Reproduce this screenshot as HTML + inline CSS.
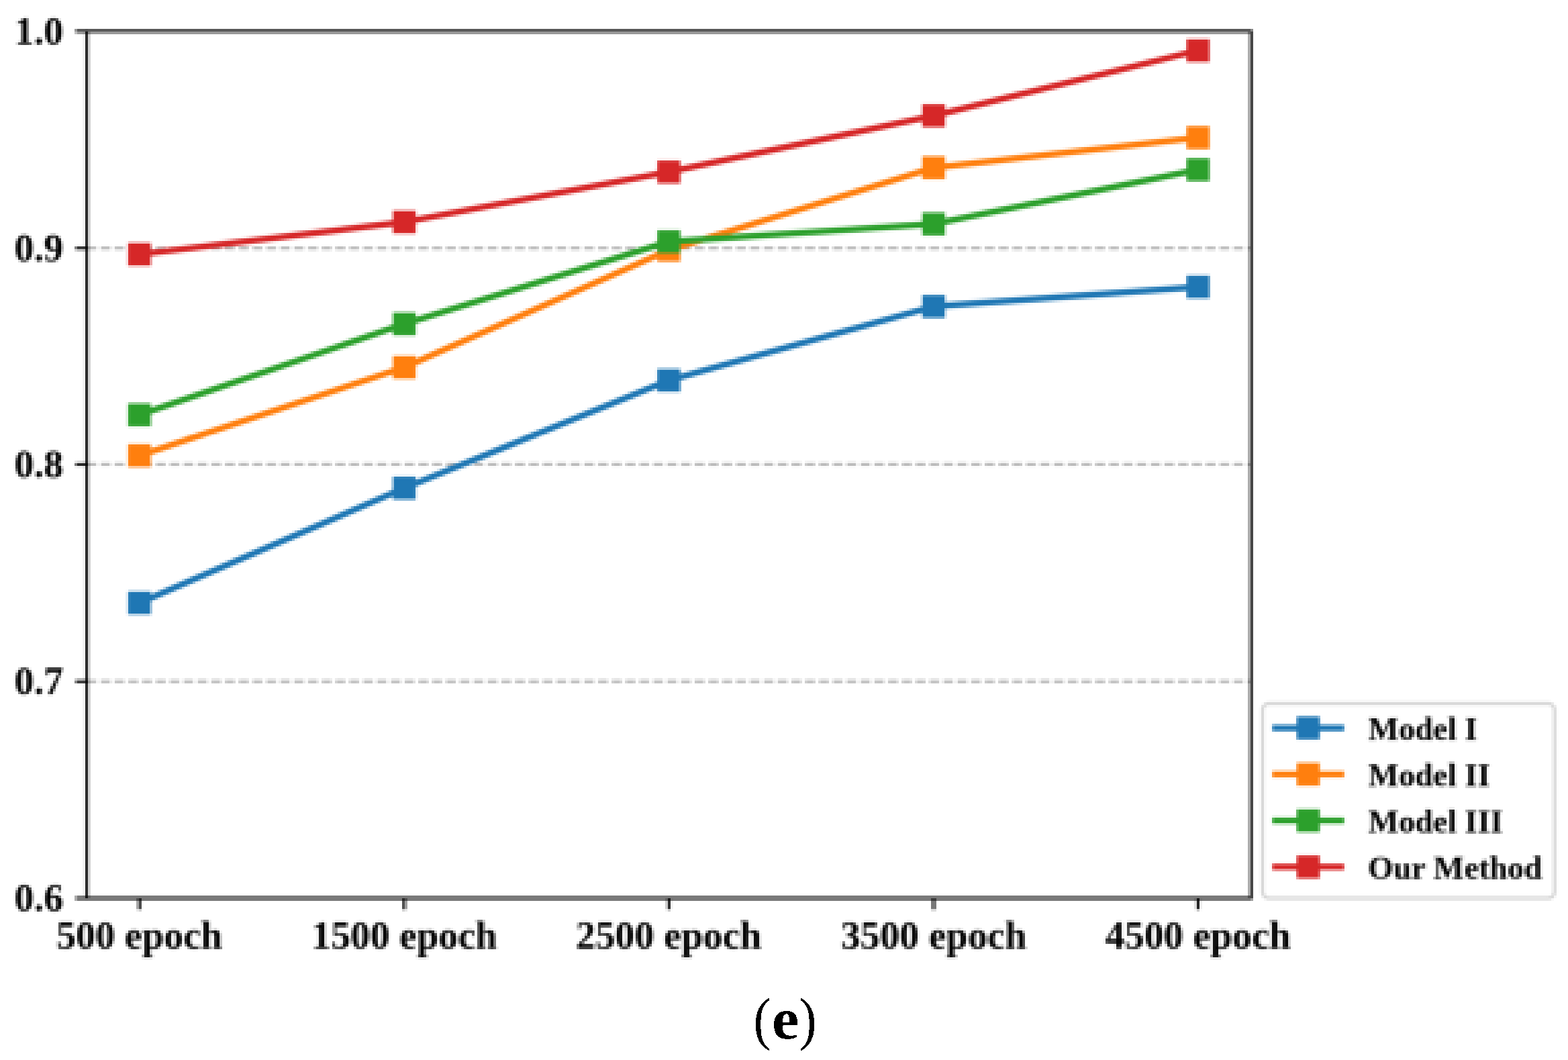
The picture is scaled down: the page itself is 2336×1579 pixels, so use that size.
<!DOCTYPE html>
<html lang="en"><head><meta charset="utf-8"><title>Figure (e)</title>
<style>
html,body{margin:0;padding:0;background:#fff;}
body{width:2336px;height:1579px;overflow:hidden;}
svg{display:block;}
text{font-family:"Liberation Serif","DejaVu Serif",serif;fill:#000;}
.tk{font-weight:bold;font-size:58.26px;}
.lg{font-weight:bold;font-size:48.55px;}
</style></head><body>
<svg width="2336" height="1579" viewBox="0 0 2336 1579">
<defs>
<filter id="pxa" filterUnits="userSpaceOnUse" primitiveUnits="userSpaceOnUse" x="0" y="0" width="2336" height="658" color-interpolation-filters="sRGB">
<feConvolveMatrix in="SourceGraphic" order="6 1" kernelMatrix="0.3 0.7 1 1 0.7 0.3" divisor="4" targetX="2" targetY="0" edgeMode="duplicate" preserveAlpha="true" result="ax"/>
<feConvolveMatrix in="ax" order="1 6" kernelMatrix="0.3 0.7 1 1 0.7 0.3" divisor="4" targetX="0" targetY="2" edgeMode="duplicate" preserveAlpha="true" result="avg"/>
<feFlood x="0" y="0" width="1" height="4" flood-color="rgb(128,0,0)" flood-opacity="1" result="r0"/>
<feFlood x="1" y="0" width="1" height="4" flood-color="rgb(96,0,0)" flood-opacity="1" result="r1"/>
<feFlood x="2" y="0" width="1" height="4" flood-color="rgb(64,0,0)" flood-opacity="1" result="r2"/>
<feFlood x="3" y="0" width="1" height="4" flood-color="rgb(160,0,0)" flood-opacity="1" result="r3"/>
<feMerge x="0" y="0" width="4" height="4" result="rm"><feMergeNode in="r0"/><feMergeNode in="r1"/><feMergeNode in="r2"/><feMergeNode in="r3"/></feMerge>
<feFlood x="0" y="0" width="4" height="1" flood-color="rgb(0,128,0)" flood-opacity="1" result="g0"/>
<feFlood x="0" y="1" width="4" height="1" flood-color="rgb(0,96,0)" flood-opacity="1" result="g1"/>
<feFlood x="0" y="2" width="4" height="1" flood-color="rgb(0,64,0)" flood-opacity="1" result="g2"/>
<feFlood x="0" y="3" width="4" height="1" flood-color="rgb(0,160,0)" flood-opacity="1" result="g3"/>
<feMerge x="0" y="0" width="4" height="4" result="gm"><feMergeNode in="g0"/><feMergeNode in="g1"/><feMergeNode in="g2"/><feMergeNode in="g3"/></feMerge>
<feComposite in="rm" in2="gm" operator="arithmetic" k1="0" k2="1" k3="1" k4="0" x="0" y="0" width="4" height="4" result="cell"/>
<feTile in="cell" x="0" y="0" width="2336" height="658" result="map"/>
<feDisplacementMap in="avg" in2="map" scale="7.96875" xChannelSelector="R" yChannelSelector="G" result="pix"/>
</filter>
<filter id="pxb" filterUnits="userSpaceOnUse" primitiveUnits="userSpaceOnUse" x="0" y="642" width="2336" height="802" color-interpolation-filters="sRGB">
<feConvolveMatrix in="SourceGraphic" order="6 1" kernelMatrix="0.3 0.7 1 1 0.7 0.3" divisor="4" targetX="2" targetY="0" edgeMode="duplicate" preserveAlpha="true" result="ax"/>
<feConvolveMatrix in="ax" order="1 6" kernelMatrix="0.3 0.7 1 1 0.7 0.3" divisor="4" targetX="0" targetY="2" edgeMode="duplicate" preserveAlpha="true" result="avg"/>
<feFlood x="0" y="644" width="1" height="4" flood-color="rgb(128,0,0)" flood-opacity="1" result="r0"/>
<feFlood x="1" y="644" width="1" height="4" flood-color="rgb(96,0,0)" flood-opacity="1" result="r1"/>
<feFlood x="2" y="644" width="1" height="4" flood-color="rgb(64,0,0)" flood-opacity="1" result="r2"/>
<feFlood x="3" y="644" width="1" height="4" flood-color="rgb(160,0,0)" flood-opacity="1" result="r3"/>
<feMerge x="0" y="644" width="4" height="4" result="rm"><feMergeNode in="r0"/><feMergeNode in="r1"/><feMergeNode in="r2"/><feMergeNode in="r3"/></feMerge>
<feFlood x="0" y="644" width="4" height="1" flood-color="rgb(0,96,0)" flood-opacity="1" result="g0"/>
<feFlood x="0" y="645" width="4" height="1" flood-color="rgb(0,64,0)" flood-opacity="1" result="g1"/>
<feFlood x="0" y="646" width="4" height="1" flood-color="rgb(0,160,0)" flood-opacity="1" result="g2"/>
<feFlood x="0" y="647" width="4" height="1" flood-color="rgb(0,128,0)" flood-opacity="1" result="g3"/>
<feMerge x="0" y="644" width="4" height="4" result="gm"><feMergeNode in="g0"/><feMergeNode in="g1"/><feMergeNode in="g2"/><feMergeNode in="g3"/></feMerge>
<feComposite in="rm" in2="gm" operator="arithmetic" k1="0" k2="1" k3="1" k4="0" x="0" y="644" width="4" height="4" result="cell"/>
<feTile in="cell" x="0" y="642" width="2336" height="802" result="map"/>
<feDisplacementMap in="avg" in2="map" scale="7.96875" xChannelSelector="R" yChannelSelector="G" result="pix"/>
</filter>
<filter id="hard" filterUnits="userSpaceOnUse" x="1100" y="1460" width="140" height="119" color-interpolation-filters="sRGB"><feComponentTransfer><feFuncA type="linear" slope="255" intercept="-127"/></feComponentTransfer></filter>
<clipPath id="ca"><rect x="0" y="0" width="2336" height="650"/></clipPath>
<clipPath id="cb"><rect x="0" y="650" width="2336" height="790"/></clipPath>
</defs>
<rect x="0" y="0" width="2336" height="1579" fill="#ffffff"/>
<g clip-path="url(#ca)"><g filter="url(#pxa)">
<g id="chart">
<rect x="0" y="0" width="2336" height="1460" fill="#ffffff"/>
<g>
<g stroke="#b0b0b0" stroke-width="4.20" stroke-dasharray="14.37 6.21" fill="none">
<line x1="129.5" y1="369.9" x2="1863.8" y2="369.9"/>
<line x1="129.5" y1="691.7" x2="1863.8" y2="691.7"/>
<line x1="129.5" y1="1014.9" x2="1863.8" y2="1014.9"/>
</g>
<g fill="#1f77b4" stroke="none">
<polyline points="207.70,898.15 602.40,727.00 996.40,566.55 1391.00,456.50 1784.80,427.40" fill="none" stroke="#1f77b4" stroke-width="9.40" stroke-linejoin="round" stroke-linecap="square"/>
<rect x="190.65" y="881.10" width="34.1" height="34.1"/>
<rect x="585.35" y="709.95" width="34.1" height="34.1"/>
<rect x="979.35" y="549.50" width="34.1" height="34.1"/>
<rect x="1373.95" y="439.45" width="34.1" height="34.1"/>
<rect x="1767.75" y="410.35" width="34.1" height="34.1"/>
</g>
<g fill="#ff7f0e" stroke="none">
<polyline points="207.70,678.60 602.40,547.15 996.40,372.55 1391.00,249.80 1784.80,205.00" fill="none" stroke="#ff7f0e" stroke-width="9.40" stroke-linejoin="round" stroke-linecap="square"/>
<rect x="190.65" y="661.55" width="34.1" height="34.1"/>
<rect x="585.35" y="530.10" width="34.1" height="34.1"/>
<rect x="979.35" y="355.50" width="34.1" height="34.1"/>
<rect x="1373.95" y="232.75" width="34.1" height="34.1"/>
<rect x="1767.75" y="187.95" width="34.1" height="34.1"/>
</g>
<g fill="#2ca02c" stroke="none">
<polyline points="207.70,618.00 602.40,482.55 996.40,359.95 1391.00,333.65 1784.80,252.80" fill="none" stroke="#2ca02c" stroke-width="9.40" stroke-linejoin="round" stroke-linecap="square"/>
<rect x="190.65" y="600.95" width="34.1" height="34.1"/>
<rect x="585.35" y="465.50" width="34.1" height="34.1"/>
<rect x="979.35" y="342.90" width="34.1" height="34.1"/>
<rect x="1373.95" y="316.60" width="34.1" height="34.1"/>
<rect x="1767.75" y="235.75" width="34.1" height="34.1"/>
</g>
<g fill="#d62728" stroke="none">
<polyline points="207.70,378.85 602.40,330.75 996.40,256.15 1391.00,172.35 1784.80,75.30" fill="none" stroke="#d62728" stroke-width="9.40" stroke-linejoin="round" stroke-linecap="square"/>
<rect x="190.65" y="361.80" width="34.1" height="34.1"/>
<rect x="585.35" y="313.70" width="34.1" height="34.1"/>
<rect x="979.35" y="239.10" width="34.1" height="34.1"/>
<rect x="1373.95" y="155.30" width="34.1" height="34.1"/>
<rect x="1767.75" y="58.25" width="34.1" height="34.1"/>
</g>
<g stroke="#000" stroke-width="4.20" fill="none">
<line x1="112.5" y1="46.5" x2="129.5" y2="46.5"/>
<line x1="112.5" y1="369.9" x2="129.5" y2="369.9"/>
<line x1="112.5" y1="691.7" x2="129.5" y2="691.7"/>
<line x1="112.5" y1="1014.9" x2="129.5" y2="1014.9"/>
<line x1="112.5" y1="1338.0" x2="129.5" y2="1338.0"/>
<line x1="207.7" y1="1338.0" x2="207.7" y2="1355.0"/>
<line x1="602.4" y1="1338.0" x2="602.4" y2="1355.0"/>
<line x1="996.4" y1="1338.0" x2="996.4" y2="1355.0"/>
<line x1="1391.0" y1="1338.0" x2="1391.0" y2="1355.0"/>
<line x1="1784.8" y1="1338.0" x2="1784.8" y2="1355.0"/>
<rect x="129.5" y="46.5" width="1734.3" height="1291.5" stroke-linejoin="miter"/>
</g>
<rect x="1881.0" y="1048.0" width="435.0" height="290.0" rx="9.7" ry="9.7" fill="#fff" stroke="#cccccc" stroke-opacity="0.8" stroke-width="4.86"/>
<g fill="#1f77b4">
<line x1="1900.2" y1="1084.35" x2="1997.8" y2="1084.35" stroke="#1f77b4" stroke-width="9.40" stroke-linecap="square"/>
<rect x="1931.95" y="1067.30" width="34.1" height="34.1"/>
</g>
<g fill="#ff7f0e">
<line x1="1900.2" y1="1153.40" x2="1997.8" y2="1153.40" stroke="#ff7f0e" stroke-width="9.40" stroke-linecap="square"/>
<rect x="1931.95" y="1136.35" width="34.1" height="34.1"/>
</g>
<g fill="#2ca02c">
<line x1="1900.2" y1="1222.40" x2="1997.8" y2="1222.40" stroke="#2ca02c" stroke-width="9.40" stroke-linecap="square"/>
<rect x="1931.95" y="1205.35" width="34.1" height="34.1"/>
</g>
<g fill="#d62728">
<line x1="1900.2" y1="1291.40" x2="1997.8" y2="1291.40" stroke="#d62728" stroke-width="9.40" stroke-linecap="square"/>
<rect x="1931.95" y="1274.35" width="34.1" height="34.1"/>
</g>
</g>
<g class="tk" text-anchor="end">
<text x="94.4" y="65.5">1.0</text>
<text x="94.4" y="388.9">0.9</text>
<text x="94.4" y="710.7">0.8</text>
<text x="94.4" y="1033.9">0.7</text>
<text x="94.4" y="1357.0">0.6</text>
</g>
<g class="tk" text-anchor="middle">
<text x="207.7" y="1412.6">500 epoch</text>
<text x="602.4" y="1412.6">1500 epoch</text>
<text x="996.4" y="1412.6">2500 epoch</text>
<text x="1391.0" y="1412.6">3500 epoch</text>
<text x="1784.8" y="1412.6">4500 epoch</text>
</g>
<g class="lg">
<text x="2038.0" y="1102.15">Model I</text>
<text x="2038.0" y="1171.20">Model II</text>
<text x="2038.0" y="1240.20">Model III</text>
<text x="2038.0" y="1309.20">Our Method</text>
</g>
</g>
</g></g>
<g clip-path="url(#cb)"><g filter="url(#pxb)"><use href="#chart"/></g></g>
<text id="caption" filter="url(#hard)" y="1547.0"><tspan x="1122.6" font-size="86px" textLength="26.06" lengthAdjust="spacingAndGlyphs">(</tspan><tspan x="1150.0" font-size="86px" font-weight="bold" textLength="40.40" lengthAdjust="spacingAndGlyphs">e</tspan><tspan x="1190.6" font-size="86px" textLength="26.06" lengthAdjust="spacingAndGlyphs">)</tspan></text>
</svg>
</body></html>
